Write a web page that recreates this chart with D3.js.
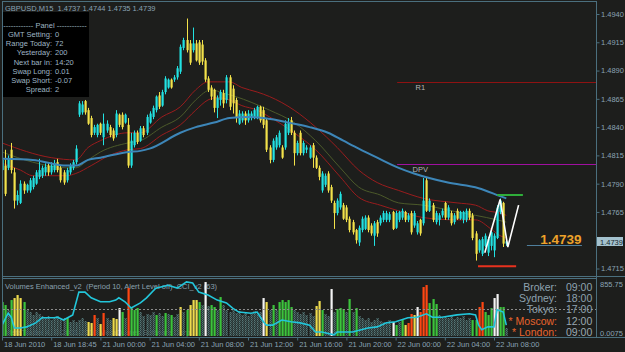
<!DOCTYPE html>
<html>
<head>
<meta charset="utf-8">
<script src="https://cdn.jsdelivr.net/npm/d3@7"></script>
<style>
  body { margin: 0; background: #1d1e1c; }
  svg { display: block; font-family: "Liberation Sans", Arial, sans-serif; }
</style>
</head>
<body>
<svg id="chart" width="625" height="352"></svg>
<script>
// ---- data (prices in points, i.e. price x 10000) ----
const symbol = "GBPUSD,M15";
const headerOHLC = ["1.4737", "1.4744", "1.4735", "1.4739"];

const opens = [14802,14806,14804,14820,14800,14775,14773,14790,14784,14784,
  14787,14790,14796,14797,14800,14806,14800,14802,14809,14804,
  14800,14793,14800,14804,14809,14851,14853,14863,14855,14848,
  14835,14833,14843,14831,14837,14840,14837,14833,14851,14851,
  14844,14842,14806,14824,14835,14828,14839,14835,14844,14849,
  14855,14868,14859,14871,14875,14882,14882,14884,14889,14910,
  14917,14914,14908,14914,14915,14913,14899,14883,14875,14873,
  14857,14864,14870,14864,14884,14874,14864,14843,14846,14852,
  14846,14848,14849,14849,14858,14855,14846,14822,14811,14822,
  14824,14822,14822,14835,14846,14835,14817,14835,14817,14820,
  14813,14824,14813,14804,14784,14789,14799,14787,14773,14764,
  14769,14771,14769,14759,14756,14749,14738,14749,14750,14760,
  14753,14744,14756,14755,14758,14758,14758,14765,14751,14758,
  14760,14765,14758,14764,14753,14747,14758,14755,14793,14766,
  14771,14756,14758,14762,14773,14760,14764,14756,14766,14759,
  14758,14758,14766,14762,14746,14731,14728,14735,14729,14735,
  14731,14742,14765,14773,14737];

const highs = [14815,14820,14815,14826,14804,14784,14793,14792,14790,14795,
  14797,14802,14812,14806,14808,14809,14809,14811,14812,14806,
  14802,14804,14808,14811,14824,14863,14863,14864,14857,14850,
  14842,14843,14844,14852,14846,14842,14839,14855,14852,14853,
  14852,14848,14835,14837,14837,14841,14841,14851,14854,14859,
  14868,14871,14873,14885,14883,14883,14886,14894,14913,14919,
  14936,14917,14928,14917,14917,14917,14901,14885,14877,14874,
  14868,14873,14873,14886,14886,14877,14866,14855,14854,14854,
  14855,14854,14857,14859,14859,14858,14848,14824,14830,14833,
  14837,14824,14846,14848,14849,14837,14828,14837,14828,14824,
  14824,14826,14815,14806,14801,14799,14801,14789,14775,14777,
  14783,14773,14771,14761,14758,14750,14753,14761,14762,14762,
  14755,14757,14758,14762,14766,14766,14765,14766,14766,14766,
  14768,14766,14764,14766,14766,14757,14759,14795,14795,14777,
  14773,14766,14764,14768,14774,14771,14766,14764,14768,14766,
  14766,14768,14768,14764,14748,14741,14743,14746,14743,14748,
  14746,14771,14777,14774,14744];

const lows = [14799,14779,14802,14799,14768,14771,14772,14781,14782,14782,
  14785,14789,14794,14795,14797,14797,14798,14800,14800,14791,
  14789,14791,14798,14802,14807,14849,14851,14851,14842,14831,
  14833,14831,14833,14824,14835,14831,14828,14831,14840,14838,
  14843,14804,14804,14822,14825,14827,14831,14833,14843,14847,
  14853,14856,14858,14869,14874,14874,14880,14882,14887,14908,
  14906,14895,14906,14898,14895,14895,14880,14871,14864,14853,
  14848,14859,14857,14861,14855,14852,14844,14842,14844,14842,
  14844,14846,14847,14847,14844,14839,14818,14808,14809,14820,
  14822,14812,14820,14833,14833,14806,14815,14815,14815,14817,
  14812,14804,14803,14793,14782,14787,14782,14773,14750,14762,
  14767,14758,14756,14747,14745,14737,14735,14747,14749,14747,
  14744,14735,14743,14753,14756,14756,14756,14749,14750,14756,
  14758,14756,14756,14745,14751,14745,14744,14753,14765,14765,
  14756,14754,14753,14760,14758,14758,14753,14754,14758,14758,
  14755,14756,14758,14740,14722,14729,14726,14734,14726,14731,
  14725,14741,14763,14734,14735];

const closes = [14811,14781,14812,14802,14775,14780,14790,14784,14789,14793,
  14795,14800,14802,14804,14805,14800,14806,14808,14802,14793,
  14791,14802,14806,14809,14821,14861,14860,14853,14843,14833,
  14840,14842,14835,14843,14843,14833,14830,14852,14842,14840,
  14851,14806,14828,14835,14827,14839,14833,14849,14852,14857,
  14867,14858,14871,14883,14882,14875,14884,14892,14911,14917,
  14908,14897,14914,14899,14897,14898,14882,14873,14867,14857,
  14866,14871,14861,14884,14858,14861,14848,14852,14852,14846,
  14852,14852,14855,14858,14846,14842,14820,14811,14828,14831,
  14835,14813,14843,14844,14835,14817,14826,14817,14826,14822,
  14822,14813,14804,14796,14799,14797,14784,14775,14764,14775,
  14781,14759,14758,14749,14747,14740,14751,14759,14760,14749,
  14746,14755,14746,14760,14764,14764,14763,14750,14764,14765,
  14766,14758,14762,14747,14764,14755,14746,14775,14766,14775,
  14758,14764,14762,14766,14760,14769,14755,14762,14759,14765,
  14765,14766,14760,14742,14728,14740,14741,14744,14741,14747,
  14744,14769,14775,14737,14739];

// moving averages: [bar index, price]
const maSlow = [[0,14812],[10,14811],[21,14806],[24,14806],[28,14811],[32,14813],[41,14818],[45,14819],
  [48,14821],[58,14835],[63,14840],[69,14844],[74,14848],[80,14849],[85,14848],[95,14843],[100,14840],
  [106,14835],[111,14828],[116,14821],[122,14813],[129,14804],[134,14799],[145,14791],[155,14786],[162,14779],[164,14777]];
const envUpper = [[0,14826],[16,14813],[24,14811],[28,14822],[32,14828],[41,14835],[45,14835],[52,14849],
  [58,14858],[63,14873],[67,14880],[70,14880],[74,14880],[78,14875],[83,14871],[87,14867],[95,14855],
  [102,14840],[109,14822],[116,14802],[122,14791],[129,14784],[137,14777],[148,14773],[154,14771],[158,14766],[162,14764],[164,14762]];
const envMiddle = [[0,14818],[10,14809],[21,14804],[24,14804],[28,14811],[32,14818],[41,14826],[45,14828],
  [52,14840],[58,14849],[63,14864],[68,14873],[72,14870],[76,14867],[81,14862],[87,14855],[95,14844],
  [102,14828],[110,14804],[116,14787],[123,14780],[129,14773],[137,14771],[148,14765],[154,14762],[161,14758],[164,14756]];
const envLower = [[0,14808],[6,14802],[10,14797],[21,14797],[24,14799],[29,14806],[35,14815],[41,14820],
  [45,14821],[52,14833],[58,14842],[63,14855],[67,14864],[70,14866],[74,14864],[78,14859],[83,14855],
  [87,14849],[95,14835],[102,14820],[110,14796],[116,14778],[123,14771],[129,14766],[137,14760],[148,14758],
  [154,14758],[159,14750],[162,14744],[164,14742]];

const zigzag = [[157,14729],[162,14776],[164.5,14734],[168,14771]];
const pivotR1 = 14880, pivotDPV = 14807;
const pivotStart = 128.5;
const dayHigh = {from: 161, to: 169.4, price: 14780};
const dayLow = {from: 154.8, to: 167.2, price: 14717};

const priceTicks = [14940,14915,14890,14865,14840,14815,14790,14765,14715];
const timeTickIdx = [0,16,32,48,64,80,96,112,128,144,160];
const timeLabels = ["18 Jun 2010","18 Jun 18:45","21 Jun 00:00","21 Jun 04:00","21 Jun 08:00",
  "21 Jun 12:00","21 Jun 16:00","21 Jun 20:00","22 Jun 00:00","22 Jun 04:00","22 Jun 08:00"];

// volumes and their colour class (g green, d low, y yellow, r red, w white)
const volumes = [510,465,390,540,570,615,570,510,390,360, 315,360,330,300,270,300,240,270,300,240,
  270,270,210,240,210,240,270,225,210,195, 315,270,180,345,270,240,270,255,420,360,
  270,720,420,390,420,360,300,330,315,360, 315,345,300,345,330,315,285,330,435,360,
  390,465,540,540,510,465,810,450,465,435, 390,585,465,390,360,390,345,375,315,360,
  300,330,375,345,360,570,510,390,465,390, 510,540,510,540,435,390,360,330,360,315,
  345,300,450,525,390,330,300,705,360,405, 420,405,360,555,360,420,300,270,240,270,
  210,240,270,225,210,180,240,210,165,210, 240,165,195,330,315,435,360,735,765,495,
  555,480,315,270,300,270,315,255,285,270, 300,240,270,240,240,435,510,360,315,420,
  570,630,435,435,120];
const volClass = ("ggdgyyygdd" + "dddddddddd" + "dgddddddyy" + "rdyrddyywg" + "drgggddddd" +
  "gddgdgddyd" + "gyyygdwdgg" + "dgdddddddd" + "dddddwydgd" + "gggggddddd" +
  "ddyygddwdg" + "ggdgdgdddd" + "dddddddwgd" + "gyrrywrrrg" + "ggdddddddd" +
  "dddggrrggg" + "wwggd").split("");
const volLevel = 405;
const volMax = 855.75;

// CCI line in the lower window, 0..100 of the window height: [bar index, value]
const cci = [[0,19],[2,40],[3,33],[4,14],[6,14],[8,16],[11,23],[13,32],[17,32],[18,33],[20,28],[23,37],
  [25,77],[27,77],[29,67],[32,60],[35,60],[37,63],[38,67],[40,60],[42,49],[45,58],[47,67],[50,84],
  [54,89],[57,84],[60,95],[62,93],[64,77],[67,72],[70,63],[73,58],[75,49],[77,42],[81,40],[83,42],
  [85,25],[86,19],[88,19],[91,28],[94,25],[97,23],[100,19],[102,7],[104,7],[108,2],[109,7],[114,7],
  [119,14],[122,16],[125,23],[128,25],[132,32],[135,33],[138,39],[140,33],[143,33],[148,37],[152,39],
  [154,37],[155,19],[156,11],[158,16],[160,16],[161,46],[163,42],[164,19]];

const panelLabels = ["GMT Setting:","Range Today:","Yesterday:","Next bar in:","Swap Long:","Swap Short:","Spread:"];
const panelValues = ["0","72","200","14:20","0.01","-0.07","2"];
const sessionNames = ["Broker:","Sydney:","Tokyo:","* Moscow:","* London:"];
const sessionTimes = ["09:00","18:00","17:00","12:00","09:00"];
const sessionOpen = [false,false,false,true,true];

// ---- colours ----
const bg = "#1d1e1c", frame = "#4b6f7e", axisText = "#8aa3b4";
const bull = "#22e2e2", bear = "#f3e24a";
const volColors = {g: "#3cc43c", y: "#eedb4e", r: "#ff4612", w: "#f4f4f4", d: "url(#lowvol)"};

// ---- layout ----
const plot = {left: 3, right: 596, top: 2, bottom: 276, volTop: 279, volBottom: 337};

const svg = d3.select("#chart");
svg.append("rect").attr("width", 625).attr("height", 352).attr("fill", bg);

const defs = svg.append("defs");
defs.append("clipPath").attr("id", "clipMain").append("rect")
  .attr("x", plot.left).attr("y", plot.top).attr("width", plot.right - plot.left).attr("height", plot.bottom - plot.top);
defs.append("clipPath").attr("id", "clipVol").append("rect")
  .attr("x", plot.left).attr("y", plot.volTop).attr("width", plot.right - plot.left).attr("height", plot.volBottom - plot.volTop);
const pat = defs.append("pattern").attr("id", "lowvol").attr("width", 2).attr("height", 2)
  .attr("patternUnits", "userSpaceOnUse");
pat.append("rect").attr("width", 2).attr("height", 2).attr("fill", "#2b4242");
pat.append("rect").attr("width", 1).attr("height", 1).attr("fill", "#5a7676");
pat.append("rect").attr("x", 1).attr("y", 1).attr("width", 1).attr("height", 1).attr("fill", "#5a7676");

const x = d3.scaleLinear().domain([0, 164]).range([2, 506.3]);
const y = d3.scaleLinear().domain([14715, 14940]).range([268.5, 14]);
const vy = d3.scaleLinear().domain([0, volMax]).range([336, 279]);
const cy = d3.scaleLinear().domain([0, 100]).range([336, 279]);

// ---- main window ----
const main = svg.append("g").attr("clip-path", "url(#clipMain)");

main.append("line").attr("x1", x(pivotStart)).attr("x2", plot.right)
  .attr("y1", Math.round(y(pivotR1)) + 0.5).attr("y2", Math.round(y(pivotR1)) + 0.5)
  .attr("stroke", "#8e1212").attr("stroke-width", 1);
main.append("line").attr("x1", x(pivotStart)).attr("x2", plot.right)
  .attr("y1", Math.round(y(pivotDPV)) + 0.5).attr("y2", Math.round(y(pivotDPV)) + 0.5)
  .attr("stroke", "#a010a0").attr("stroke-width", 1);
main.append("text").attr("x", x(134.5)).attr("y", y(pivotR1) + 8)
  .attr("fill", "#b4b4b4").attr("font-size", 7.5).text("R1");
main.append("text").attr("x", x(133.5)).attr("y", y(pivotDPV) + 8)
  .attr("fill", "#b4b4b4").attr("font-size", 7.5).text("DPV");

const line = d3.line().x(d => x(d[0])).y(d => y(d[1])).curve(d3.curveMonotoneX);
main.append("path").datum(envUpper).attr("d", line).attr("fill", "none").attr("stroke", "#9a1c1c").attr("stroke-width", 1);
main.append("path").datum(envLower).attr("d", line).attr("fill", "none").attr("stroke", "#9a1c1c").attr("stroke-width", 1);
main.append("path").datum(envMiddle).attr("d", line).attr("fill", "none").attr("stroke", "#4c5a2a").attr("stroke-width", 1);

const bars = d3.range(opens.length);
const candle = main.append("g").selectAll("g").data(bars).join("g")
  .attr("fill", i => closes[i] >= opens[i] ? bull : bear);
candle.append("rect")
  .attr("x", i => Math.round(x(i)))
  .attr("y", i => y(highs[i]))
  .attr("width", 1)
  .attr("height", i => y(lows[i]) - y(highs[i]));
candle.append("rect")
  .attr("x", i => Math.round(x(i)) - 0.5)
  .attr("y", i => Math.min(y(opens[i]), y(closes[i])))
  .attr("width", 2.2)
  .attr("height", i => Math.max(1, Math.abs(y(opens[i]) - y(closes[i]))));

main.append("path").datum(maSlow).attr("d", line).attr("fill", "none")
  .attr("stroke", "#3d86b8").attr("stroke-width", 2);

main.append("path").datum(zigzag).attr("d", d3.line().x(d => x(d[0])).y(d => y(d[1])))
  .attr("fill", "none").attr("stroke", "#ffffff").attr("stroke-width", 1.6);

main.append("line").attr("x1", x(dayHigh.from)).attr("x2", x(dayHigh.to))
  .attr("y1", y(dayHigh.price)).attr("y2", y(dayHigh.price)).attr("stroke", "#2fae3a").attr("stroke-width", 2);
main.append("line").attr("x1", x(dayLow.from)).attr("x2", x(dayLow.to))
  .attr("y1", y(dayLow.price)).attr("y2", y(dayLow.price)).attr("stroke", "#e8321e").attr("stroke-width", 2);

const lastPrice = closes[closes.length - 1];
main.append("line").attr("x1", x(170.7)).attr("x2", x(188.6))
  .attr("y1", Math.round(y(lastPrice)) + 4.5).attr("y2", Math.round(y(lastPrice)) + 4.5)
  .attr("stroke", "#4f7f9c").attr("stroke-width", 1);
main.append("text").attr("x", x(175)).attr("y", y(lastPrice) + 3)
  .attr("fill", "#eea22a").attr("font-size", 13.5).attr("font-weight", "bold")
  .text((lastPrice / 10000).toFixed(4));

// info panel
const panel = svg.append("g");
panel.append("rect").attr("x", 2).attr("y", 12).attr("width", 87).attr("height", 85).attr("fill", "#000");
panel.append("text").attr("x", 45).attr("y", 28).attr("text-anchor", "middle")
  .attr("fill", "#9fb5c4").attr("font-size", 7.5).text("------------ Panel ------------");
panelLabels.forEach((lab, k) => {
  panel.append("text").attr("x", 52).attr("y", 37 + k * 9.2).attr("text-anchor", "end")
    .attr("fill", "#9fb5c4").attr("font-size", 7.5).text(lab);
  panel.append("text").attr("x", 55).attr("y", 37 + k * 9.2)
    .attr("fill", "#9fb5c4").attr("font-size", 7.5).text(panelValues[k]);
});

svg.append("text").attr("x", 5).attr("y", 10.5).attr("fill", axisText).attr("font-size", 7.5)
  .attr("xml:space", "preserve")
  .text(symbol + "  " + headerOHLC.join(" "));

// ---- volume window ----
const vol = svg.append("g").attr("clip-path", "url(#clipVol)");
vol.append("text").attr("x", 5).attr("y", 289).attr("fill", "#8aa0ae").attr("font-size", 7.5)
  .attr("xml:space", "preserve")
  .text("Volumes Enhanced_v2  (Period 10, Alert Level off)  CCI_v2 (63)");
vol.append("text").attr("x", 5).attr("y", 334.5).attr("fill", "#5d6a70").attr("font-size", 7.5)
  .text("MetaTrader 4, \u00a9 2001-2010 MetaQuotes Software Corp.");

vol.append("g").selectAll("rect").data(bars).join("rect")
  .attr("x", i => Math.round(x(i)) - 0.5)
  .attr("y", i => vy(volumes[i]))
  .attr("width", 2.2)
  .attr("height", i => vy(0) - vy(volumes[i]))
  .attr("fill", i => volColors[volClass[i]]);

vol.append("line").attr("x1", plot.left).attr("x2", plot.right)
  .attr("y1", Math.round(vy(volLevel)) + 0.5).attr("y2", Math.round(vy(volLevel)) + 0.5)
  .attr("stroke", "#8c8c8c").attr("stroke-dasharray", "2,2");

vol.append("path").datum(cci)
  .attr("d", d3.line().x(d => x(d[0])).y(d => cy(d[1])))
  .attr("fill", "none").attr("stroke", "#22c6da").attr("stroke-width", 1.6);

const clock = svg.append("g").attr("font-size", 10.5);
sessionNames.forEach((name, k) => {
  const c = sessionOpen[k] ? "#e8642c" : "#8ea2b0";
  clock.append("text").attr("x", 557).attr("y", 291 + k * 11.2).attr("text-anchor", "end")
    .attr("fill", c).text(name);
  clock.append("text").attr("x", 566).attr("y", 291 + k * 11.2)
    .attr("fill", c === "#e8642c" ? "#9aa8b2" : c).text(sessionTimes[k]);
});

// ---- frame and axes ----
const fr = svg.append("g").attr("stroke", frame).attr("fill", "none");
fr.append("line").attr("x1", 2.5).attr("x2", 2.5).attr("y1", 1).attr("y2", 338);
fr.append("line").attr("x1", 596.5).attr("x2", 596.5).attr("y1", 1).attr("y2", 338);
fr.append("line").attr("x1", 2).attr("x2", 597).attr("y1", 1.5).attr("y2", 1.5);
fr.append("line").attr("x1", 2).attr("x2", 625).attr("y1", 276.5).attr("y2", 276.5);
fr.append("line").attr("x1", 2).attr("x2", 597).attr("y1", 278.5).attr("y2", 278.5);
fr.append("line").attr("x1", 2).attr("x2", 625).attr("y1", 337.5).attr("y2", 337.5);

svg.append("g").attr("transform", "translate(596.5,0)")
  .call(d3.axisRight(y).tickValues(priceTicks).tickSize(3).tickFormat(d => (d / 10000).toFixed(4)))
  .call(g => g.select(".domain").remove())
  .call(g => g.selectAll("line").attr("stroke", frame))
  .call(g => g.selectAll("text").attr("fill", axisText).attr("font-size", 7.5).attr("x", 4.5)
    .attr("font-family", "Liberation Sans, Arial, sans-serif"));

// current price marker on the scale
svg.append("rect").attr("x", 597).attr("y", Math.round(y(lastPrice)) - 4).attr("width", 26).attr("height", 9)
  .attr("fill", "#a4c2ce");
svg.append("text").attr("x", 600).attr("y", Math.round(y(lastPrice)) + 3.5)
  .attr("fill", "#16242a").attr("font-size", 7.5).text((lastPrice / 10000).toFixed(4));

svg.append("text").attr("x", 600).attr("y", 287).attr("fill", axisText).attr("font-size", 7.5).text(volMax.toFixed(2));
svg.append("text").attr("x", 600).attr("y", 336).attr("fill", axisText).attr("font-size", 7.5).text("0.0075");

svg.append("g").attr("transform", "translate(0,337.5)")
  .call(d3.axisBottom(x).tickValues(timeTickIdx).tickSize(3).tickFormat((d, k) => timeLabels[k]))
  .call(g => g.select(".domain").remove())
  .call(g => g.selectAll("line").attr("stroke", frame))
  .call(g => g.selectAll("text").attr("fill", axisText).attr("font-size", 7.5)
    .attr("text-anchor", "start").attr("x", 1.5).attr("y", 4)
    .attr("font-family", "Liberation Sans, Arial, sans-serif"));
</script>
</body>
</html>
